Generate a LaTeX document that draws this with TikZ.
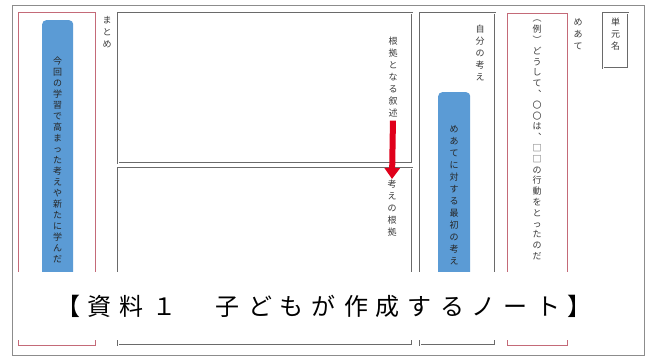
\documentclass[tikz,border=0pt]{standalone}
\usepackage{fontspec}
\newfontfamily\jp{Noto Sans CJK JP}
\usetikzlibrary{arrows.meta}
\definecolor{framegray}{HTML}{8C8C8C}
\definecolor{boxgray}{HTML}{6A6A6A}
\definecolor{boxred}{HTML}{C46A78}
\definecolor{blueband}{HTML}{5B9BD5}
\definecolor{arrowred}{HTML}{E0001B}
\definecolor{inktext}{HTML}{3A3A3A}
\newcommand\capcell[1]{\makebox[32pt]{#1}}
\begin{document}
\begin{tikzpicture}[x=1pt,y=-1pt,
  graybox/.style={draw=boxgray, double=white, double distance=1pt, line width=0.6pt, inner sep=0, anchor=north west},
  redbox/.style={draw=boxred, line width=1pt, inner sep=0, anchor=north west},
  bluebar/.style={fill=blueband, rounded corners=4pt, inner sep=0, anchor=north west},
  vtext/.style={font=\jp\fontsize{9}{12}\selectfont, align=center, inner sep=0, anchor=north, text=inktext},
  btext/.style={vtext, text=black!85}]
\fill[white] (0,0) rectangle (647,358);
\useasboundingbox (0,0) rectangle (647,358);
% outer frame
\node[draw=framegray, line width=1.2pt, inner sep=0, anchor=north west, minimum width=632pt, minimum height=350pt] (outer) at (12,5) {};
% red boxes
\node[redbox, minimum width=77pt, minimum height=333pt] (matomebox) at (18,12) {};
\node[redbox, minimum width=60pt, minimum height=332pt] (meatebox) at (507,13) {};
% gray boxes
\node[graybox, minimum width=294pt, minimum height=150pt] (topbox) at (118,13) {};
\node[graybox, minimum width=294pt, minimum height=177pt] (bottombox) at (118,168) {};
\node[graybox, minimum width=75pt, minimum height=332pt] (jibunbox) at (420,13) {};
\node[graybox, minimum width=25pt, minimum height=55pt] (tangenbox) at (603,13) {};
% blue bars
\node[bluebar, minimum width=31pt, minimum height=316pt] (leftbar) at (42,20) {};
\node[bluebar, minimum width=32pt, minimum height=244pt] (midbar) at (438,92) {};
% texts
\node[vtext] (matome) at (107,16) {ま\\と\\め};
\node[btext, font=\jp\fontsize{9}{11}\selectfont] (lefttext) at (57.5,57) {今\\回\\の\\学\\習\\で\\高\\ま\\っ\\た\\考\\え\\や\\新\\た\\に\\学\\ん\\だ};
\node[vtext] (konkyo) at (393,37) {根\\拠\\と\\な\\る\\叙\\述};
\node[vtext] (kangae) at (392,180) {考\\え\\の\\根\\拠};
\node[vtext] (jibun) at (480,25) {自\\分\\の\\考\\え};
\node[btext] (midtext) at (454,125) {め\\あ\\て\\に\\対\\す\\る\\最\\初\\の\\考\\え};
\node[vtext, font=\jp\fontsize{9}{10.8}\selectfont] (meatetext) at (537,20) {︵\\例\\︶\\ど\\う\\し\\て\\︑\\〇\\〇\\は\\︑\\□\\□\\の\\行\\動\\を\\と\\っ\\た\\の\\だ};
\node[vtext] (meate) at (578,18) {め\\あ\\て};
\node[vtext] (tangen) at (615.5,18) {単\\元\\名};
% arrow
\draw[arrowred, line width=6pt, -{Triangle[width=15pt,length=11pt]}, shorten <=3pt, shorten >=1pt] (konkyo.south) -- (kangae.north);
% caption overlay
\node[fill=white, inner sep=0, minimum width=622pt, minimum height=68pt, font=\jp\fontsize{24}{24}\selectfont] (caption) at (324,306)
  {\capcell{【}\capcell{資}\capcell{料}\capcell{１}\capcell{}\capcell{子}\capcell{ど}\capcell{も}\capcell{が}\capcell{作}\capcell{成}\capcell{す}\capcell{る}\capcell{ノ}\capcell{ー}\capcell{ト}\capcell{】}};
\end{tikzpicture}
\end{document}
